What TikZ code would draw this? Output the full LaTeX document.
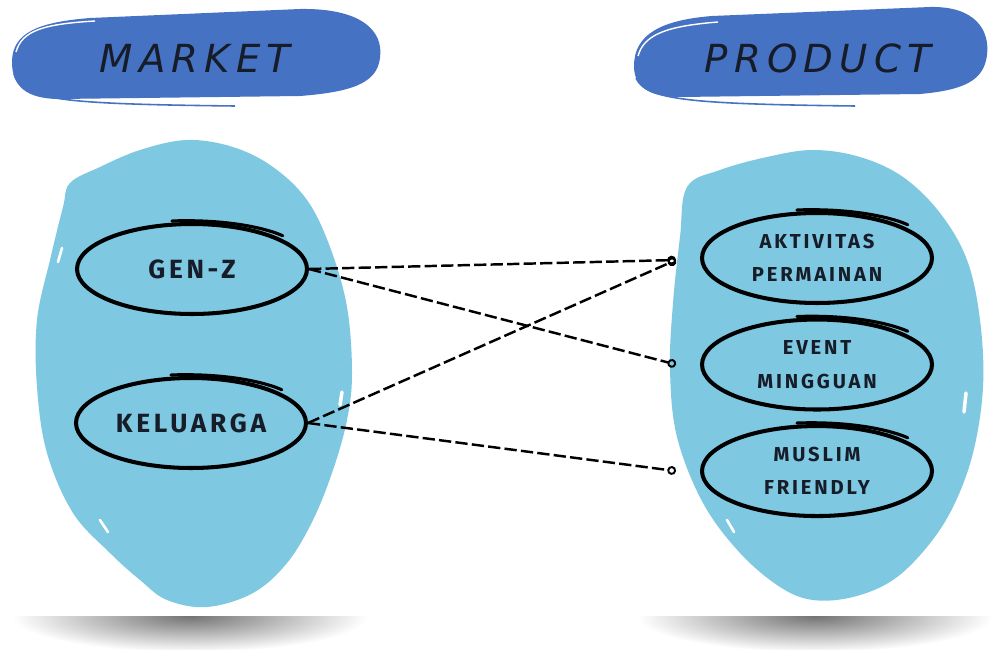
\documentclass[tikz,border=0pt]{standalone}
\usepackage{fontspec}
\usepackage{tikz}
\usetikzlibrary{arrows.meta,positioning,calc,shapes.geometric}
\newfontfamily\bannerfont[LetterSpace=16]{DejaVu Sans}
\newfontfamily\tagfont[LetterSpace=14]{Fira Sans}
\definecolor{bannerBlue}{RGB}{70,114,196}
\definecolor{blobBlue}{RGB}{126,200,226}
\definecolor{inkNavy}{RGB}{22,28,40}

\begin{document}
\begin{tikzpicture}[x=0.02cm,y=-0.02cm,
  bannertxt/.style={font=\bannerfont\itshape\fontsize{22}{24}\selectfont,text=inkNavy},
  ring/.style={ellipse,draw=black,line width=2.3pt,minimum width=4.6cm,minimum height=1.8cm,
               align=center,text=inkNavy,inner sep=0pt},
  big/.style={font=\tagfont\bfseries\fontsize{15}{17}\selectfont},
  small/.style={font=\tagfont\bfseries\fontsize{11.5}{19}\selectfont},
  flourish/.style={draw=black,line width=1.8pt,line cap=round},
  link/.style={draw=black,line width=1.4pt,dash pattern=on 7pt off 2.4pt,
               -{Circle[open,length=5pt,line width=1.1pt]}}]
  \useasboundingbox[fill=white] (0,0) rectangle (990,649);

  % floor shadows
  \begin{scope}
    \clip (0,616) rectangle (990,649);
    \shade[inner color=black!55,outer color=white] (190,616) ellipse (178 and 36);
    \shade[inner color=black!55,outer color=white] (815,616) ellipse (178 and 36);
  \end{scope}

  % paint blobs
  \fill[blobBlue] plot[smooth cycle,tension=0.6] coordinates {
    (70,183) (100,167) (140,150) (187,140) (233,147) (273,167) (307,200)
    (330,247) (347,307) (352,373) (347,420) (333,470) (313,520) (287,563)
    (253,593) (207,607) (167,600) (140,580) (110,553) (73,513) (47,453)
    (37,387) (37,320) (50,260) (63,207)};
  \fill[blobBlue] plot[smooth cycle,tension=0.6] coordinates {
    (687,187) (720,170) (767,157) (813,150) (860,157) (903,177) (940,213)
    (967,260) (980,320) (983,387) (973,453) (953,507) (927,547) (893,580)
    (853,597) (813,600) (780,587) (740,553) (703,503) (677,437) (670,370)
    (673,303) (680,237)};
  \draw[white,line width=1.5pt,line cap=round] (62,248) -- (58,262);
  \draw[white,line width=2pt,line cap=round] (342,392) -- (340,405);
  \draw[white,line width=1.5pt,line cap=round] (100,520) -- (108,532);
  \draw[white,line width=2pt,line cap=round] (966,393) -- (964,412);
  \draw[white,line width=1.5pt,line cap=round] (727,520) -- (734,532);

  % banners
  \fill[bannerBlue] (12,62) .. controls (12,32) and (40,22) .. (90,18) -- (300,9)
    .. controls (360,8) and (384,30) .. (380,58) .. controls (377,84) and (350,92) .. (300,96)
    -- (60,99) .. controls (26,99) and (12,86) .. (12,62) -- cycle;
  \draw[white,line width=0.8pt] (16,52) .. controls (22,30) and (45,24) .. (95,21);
  \draw[bannerBlue,line width=0.9pt] (14,74) .. controls (22,100) and (60,104) .. (235,106);
  \fill[bannerBlue] (634,66) .. controls (634,34) and (662,20) .. (712,16) -- (930,7)
    .. controls (975,6) and (990,30) .. (987,55) .. controls (984,80) and (965,90) .. (920,94)
    -- (680,97) .. controls (648,97) and (634,86) .. (634,66) -- cycle;
  \draw[white,line width=0.8pt] (638,56) .. controls (644,34) and (668,26) .. (718,22);
  \draw[bannerBlue,line width=0.9pt] (636,78) .. controls (646,100) and (690,104) .. (855,106);
  \node[bannertxt] (mkt) at (195,58) {MARKET};
  \node[bannertxt] (prd) at (818,58) {PRODUCT};

  % market side
  \node[ring,big] (genz) at (192,269) {GEN-Z};
  \node[ring,big] (kel) at (191,423) {KELUARGA};

  % product side
  \node[ring,small] (akt) at (817,258) {AKTIVITAS\\PERMAINAN};
  \node[ring,small,below=2.5mm of akt] (evt) {EVENT\\MINGGUAN};
  \node[ring,small,below=2.5mm of evt] (mus) {MUSLIM\\FRIENDLY};

  \foreach \n in {genz,kel,akt,evt,mus}
    \draw[flourish] ($(\n.north)+(-20,-1)$) .. controls ($(\n.north)+(40,-3)$)
      and ($(\n.north east)+(-5,-6)$) .. ($(\n.north east)+(8,0)$);

  % link ends, left of the product rings
  \coordinate (aktin) at ($(akt.west)+(-24,2)$);
  \coordinate (evtin) at ($(evt.west)+(-24,0)$);
  \coordinate (musin) at ($(mus.west)+(-24,0)$);

  \draw[link] (genz.east) -- (aktin);
  \draw[link] (genz.east) -- (evtin);
  \draw[link] (kel.east) -- (aktin);
  \draw[link] (kel.east) -- (musin);
\end{tikzpicture}
\end{document}
